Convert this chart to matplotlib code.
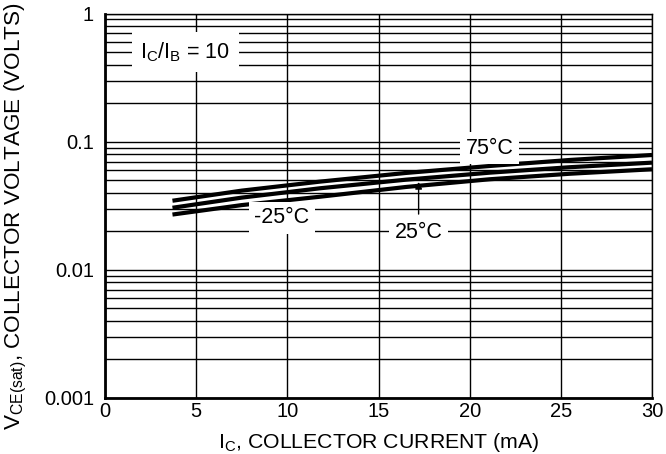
import matplotlib
matplotlib.use('Agg')
import matplotlib.pyplot as plt
import numpy as np

plt.rcParams['font.family'] = ['Liberation Sans', 'DejaVu Sans']
plt.rcParams['mathtext.default'] = 'regular'

# collector current (mA) and VCE(sat) (V)
ic = [3.7, 7.5, 11.8, 16.5, 21.1, 25.5, 30.0]
vce_75 = [0.0346, 0.0415, 0.0488, 0.0570, 0.0646, 0.0720, 0.0787]
vce_25 = [0.0305, 0.0366, 0.0433, 0.0505, 0.0573, 0.0632, 0.0686]
vce_m25 = [0.0270, 0.0320, 0.0372, 0.0443, 0.0509, 0.0562, 0.0609]

xticks = [0, 5, 10, 15, 20, 25, 30]
yticks = [0.001, 0.01, 0.1, 1]
ytick_labels = ['0.001', '0.01', '0.1', '1']

fs_tick = 14.5
fs_note = 15.5

fig = plt.figure(figsize=(6.66, 4.54), dpi=100)
ax = fig.add_axes([105 / 666, 1 - 398 / 454, 547 / 666, 384.5 / 454])

ax.set_yscale('log')
ax.set_xlim(0, 30)
ax.set_ylim(0.001, 1)

for v in (vce_75, vce_25, vce_m25):
    ax.plot(ic, v, color='black', lw=3.0, solid_capstyle='butt', zorder=4)

ax.set_xticks(xticks)
ax.set_xticklabels([str(t) for t in xticks])
ax.set_yticks(yticks)
ax.set_yticklabels(ytick_labels)
ax.yaxis.set_minor_formatter(plt.NullFormatter())
ax.tick_params(which='both', length=0, labelsize=fs_tick)
ax.tick_params(axis='y', pad=8)
ax.tick_params(axis='x', pad=3)

ax.grid(True, which='both', axis='y', color='black', lw=1.0)
ax.grid(True, which='major', axis='x', color='black', lw=1.0)
ax.set_axisbelow(True)

for side in ('left', 'bottom'):
    ax.spines[side].set_linewidth(2.0)
for side in ('top', 'right'):
    ax.spines[side].set_linewidth(1.0)

ax.set_xlabel('$I_C$, COLLECTOR CURRENT (mA)', fontsize=15.3)
ax.set_ylabel('$V_{CE(sat)}$, COLLECTOR VOLTAGE (VOLTS)', fontsize=16.2)
ax.xaxis.set_label_coords(0.5, (398 - 431) / 384.5)
ax.yaxis.set_label_coords((29 - 105) / 547, (398 - 216) / 384.5)

box = dict(facecolor='white', edgecolor='none', pad=4)
ax.text(4.4, 0.5, '$I_C/I_B$ = 10', fontsize=fs_note, ha='center',
        va='center', bbox=dict(facecolor='white', edgecolor='none', pad=6),
        zorder=5)
ax.text(21.1, 0.089, '75°C', fontsize=fs_note, ha='center', va='center',
        bbox=box, zorder=5)
ax.text(9.7, 0.0254, '-25°C', fontsize=fs_note, ha='center', va='center',
        bbox=box, zorder=5)
ax.annotate('25°C', xy=(17.2, 0.0485), xytext=(17.2, 0.0194),
            fontsize=fs_note, ha='center', va='center', bbox=box, zorder=5,
            arrowprops=dict(arrowstyle='-|>', color='black', lw=1.0,
                            mutation_scale=10, shrinkA=2, shrinkB=0))

fig.savefig('out.png', dpi=100)
